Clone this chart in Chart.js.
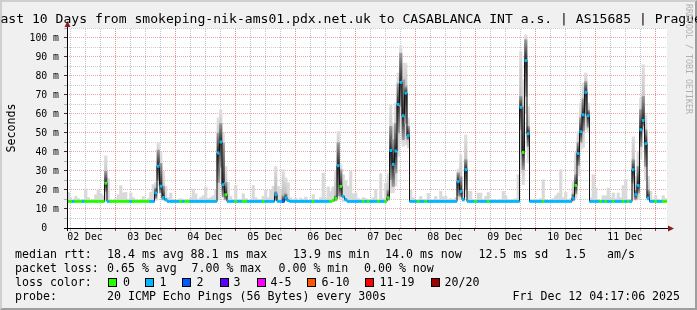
<!DOCTYPE html>
<html>
<head>
<meta charset="utf-8">
<title>smokeping</title>
<script src="https://cdn.jsdelivr.net/npm/chart.js@4.4.1/dist/chart.umd.min.js"></script>
<style>
html, body { margin: 0; padding: 0; }
body { width: 697px; height: 310px; overflow: hidden; position: relative; background: #f0f0f0;
  font-family: "DejaVu Sans Mono", monospace; color: #000; }
#frame { position: absolute; left: 0; top: 0; width: 693px; height: 306px; border: 2px solid;
  border-color: #cfcfcf #9e9e9e #9e9e9e #cfcfcf; }
#chart { position: absolute; left: 0; top: 0; }
.txt { position: absolute; white-space: pre; font-size: 11.6px; line-height: 14px; }
.box { position: absolute; top: 278px; width: 7px; height: 7px; border: 1px solid #000; }
#title { position: absolute; left: -7.5px; top: 11px; white-space: pre; font-size: 13.1px; line-height: 16px; }
#ylab { position: absolute; left: -19.5px; top: 121px; width: 60px; text-align: center;
  transform: rotate(-90deg); font-size: 11.6px; line-height: 14px; }
#mark { position: absolute; left: 684px; top: 4px; writing-mode: vertical-rl; font-size: 8.3px;
  color: #b0b0b0; white-space: pre; }
</style>
</head>
<body>
<div id="frame"></div>
<canvas id="chart" width="697" height="310"></canvas>
<div id="title">Last 10 Days from smokeping-nik-ams01.pdx.net.uk to CASABLANCA INT a.s. | AS15685 | Prague</div>
<div id="ylab">Seconds</div>
<div id="mark">RRDTOOL / TOBI OETIKER</div>

<span class="txt" style="left:15px;top:247px">median rtt:</span>
<span class="txt" style="left:107px;top:247px">18.4 ms avg</span>
<span class="txt" style="left:190.5px;top:247px">88.1 ms max</span>
<span class="txt" style="left:293px;top:247px">13.9 ms min</span>
<span class="txt" style="left:385px;top:247px">14.0 ms now</span>
<span class="txt" style="left:478.5px;top:247px">12.5 ms sd</span>
<span class="txt" style="left:565px;top:247px">1.5</span>
<span class="txt" style="left:607px;top:247px">am/s</span>

<span class="txt" style="left:15px;top:261px">packet loss:</span>
<span class="txt" style="left:107px;top:261px">0.65 % avg</span>
<span class="txt" style="left:191.5px;top:261px">7.00 % max</span>
<span class="txt" style="left:278.5px;top:261px">0.00 % min</span>
<span class="txt" style="left:364px;top:261px">0.00 % now</span>

<span class="txt" style="left:15px;top:275px">loss color:</span>
<div class="box" style="left:108px;background:#26ff00"></div><span class="txt" style="left:123px;top:275px">0</span>
<div class="box" style="left:145px;background:#00b8ff"></div><span class="txt" style="left:159.5px;top:275px">1</span>
<div class="box" style="left:182px;background:#0059ff"></div><span class="txt" style="left:196.5px;top:275px">2</span>
<div class="box" style="left:219.5px;background:#5e00ff"></div><span class="txt" style="left:233.5px;top:275px">3</span>
<div class="box" style="left:256.5px;background:#ff00ff"></div><span class="txt" style="left:270.5px;top:275px">4-5</span>
<div class="box" style="left:307px;background:#ff5500"></div><span class="txt" style="left:321.5px;top:275px">6-10</span>
<div class="box" style="left:365px;background:#ff0000"></div><span class="txt" style="left:379.5px;top:275px">11-19</span>
<div class="box" style="left:431px;background:#a10000"></div><span class="txt" style="left:444.5px;top:275px">20/20</span>

<span class="txt" style="left:15px;top:289px">probe:</span>
<span class="txt" style="left:107px;top:289px">20 ICMP Echo Pings (56 Bytes) every 300s</span>
<span class="txt" style="left:512.5px;top:289px">Fri Dec 12 04:17:06 2025</span>

<script>
// one value per hour, 240 hours, hour 0 = left edge of the plot
const dayLabels = ['02 Dec', '03 Dec', '04 Dec', '05 Dec', '06 Dec', '07 Dec', '08 Dec', '09 Dec', '10 Dec', '11 Dec']
const firstGridHour = 1.2   // first 6-hour grid line after the left edge
const yTop = 105.26

const medianRtt = [
  14,14,14,14,14,14,14,14,14,14, 14,14,14,14,14,23.6,14,14,14,14,
  14,14,14,14,14,14,14,14,14,14, 14,14,14,14,14,18.5,32.5,22,16,15,
  14,14,14,14,14,14,14,14,14,14, 14,14,14,14,14,14,14,14,14,14,
  39.5,45.3,22.8,17.5,14,14,14,14,14,14, 14,14,14,14,14,14,14,14,14,14,
  14,14,14,17.5,14,14,14,15.8,14.5,14, 14,14,14,14,14,14,14,14,14,14,
  14,14,14,14,14,14,14.5,15.6,32.8,21.9, 16.6,15,14,14,14,14,14,14,14,14,
  14,14,14,14,14,14,14,14,15.9,40.8, 33.5,40.5,65,76.6,59.1,71,48.6,14,14,14,
  14,14,14,14,14,14,14,14,14,14, 14,14,14,14,14,14,24.4,19.2,15,30.7,
  14,14,14,14,14,14,14,14,14,14, 14,14,14,14,14,14,14,14,14,14,
  14,63.5,39.8,88.1,49.6,14,14,14,14,14, 14,14,14,14,14,14,14,14,14,14,
  14,14,15.8,22.4,39.2,50.7,59.6,71.4,59.1,14, 14,14,14,14,14,14,14,14,14,14,
  14,14,14,14,14,14,30.7,17.7,22.4,51.7, 56.6,44.4,15.8,14,14,14,14,14,14,14
]

// lost pings out of 20 in that hour
const lossCount = [
  0,0,1,0,0,0,1,0,0,0, 0,0,0,0,0,0,1,0,0,0,
  0,0,0,0,0,1,0,0,0,0, 0,0,0,1,1,1,1,1,1,1,
  1,1,1,1,1,0,1,0,0,1, 1,1,1,1,1,1,1,1,1,1,
  1,1,1,0,1,1,1,0,1,1, 0,0,1,1,1,1,1,1,0,1,
  1,1,1,1,1,1,2,1,1,1, 1,1,1,1,1,1,1,1,0,1,
  1,1,1,1,1,0,0,0,1,0, 1,1,1,1,1,1,1,1,0,1,
  0,1,1,1,0,1,1,0,0,1, 1,1,1,1,1,1,1,1,1,1,
  0,1,1,0,1,1,1,1,1,1, 1,1,1,1,1,1,1,1,1,1,
  1,1,1,0,1,1,1,1,0,1, 1,1,1,1,1,1,1,1,1,1,
  1,1,0,1,1,1,1,1,1,1, 0,1,1,1,1,1,1,1,1,1,
  1,1,1,0,1,1,1,1,1,1, 1,1,1,0,1,0,1,1,0,1,
  1,1,0,1,0,1,1,1,1,1, 1,1,1,1,1,0,1,1,0,0
]

// fastest and slowest ping of each hour (outer smoke)
const smokeLo = [
  13.9,13.9,13.9,13.9,13.9,13.9,13.9,13.9,13.9,13.9, 13.9,13.9,13.9,13.9,13.9,14,13.9,13.9,13.9,13.9,
  13.9,13.9,13.9,13.9,13.9,13.9,13.9,13.9,13.9,13.9, 13.9,13.9,13.9,13.9,13.9,14.5,21.9,18,14.5,13.9,
  13.9,13.9,13.9,13.9,13.9,13.9,13.9,13.9,13.9,13.9, 13.9,13.9,13.9,13.9,13.9,13.9,13.9,13.9,13.9,13.9,
  15,24,15.5,14.5,13.9,13.9,13.9,13.9,13.9,13.9, 13.9,13.9,13.9,13.9,13.9,13.9,13.9,13.9,13.9,13.9,
  13.9,13.9,13.9,14.5,13.9,13.9,13.9,14,13.9,13.9, 13.9,13.9,13.9,13.9,13.9,13.9,13.9,13.9,13.9,13.9,
  13.9,13.9,13.9,13.9,13.9,13.9,13.9,14,15.5,15, 13.9,13.9,13.9,13.9,13.9,13.9,13.9,13.9,13.9,13.9,
  13.9,13.9,13.9,13.9,13.9,13.9,13.9,13.9,14.5,18.4, 18.5,21.9,37.7,51.7,42.9,43.8,42,13.9,13.9,13.9,
  13.9,13.9,13.9,13.9,13.9,13.9,13.9,13.9,13.9,13.9, 13.9,13.9,13.9,13.9,13.9,13.9,15,15,13.9,16.5,
  13.9,13.9,13.9,13.9,13.9,13.9,13.9,13.9,13.9,13.9, 13.9,13.9,13.9,13.9,13.9,13.9,13.9,13.9,13.9,13.9,
  13.9,29,22.8,60.5,34.2,13.9,13.9,13.9,13.9,13.9, 13.9,13.9,13.9,13.9,13.9,13.9,13.9,13.9,13.9,13.9,
  13.9,13.9,14,15.5,27.5,41.2,42.1,51.7,50,13.9, 13.9,13.9,13.9,13.9,13.9,13.9,13.9,13.9,13.9,13.9,
  13.9,13.9,13.9,13.9,13.9,13.9,15,14.5,15,36, 50,25.4,14.5,13.9,13.9,13.9,13.9,13.9,13.9,13.9
]
const smokeHi = [
  18.7,16,14.5,16.6,15.5,14.5,15,20.5,16,14.5, 15,17.5,20.2,18,17,38,26,14.5,14.5,15.5,
  17.5,22.3,18.5,18.7,15,18.5,16,15,14.5,15, 16.5,15,15.5,18.7,22.8,24,45,40,30,22,
  16,18.4,15,14.5,15,15.5,14.5,15,15,16, 20.5,18,15,16,17,21.6,15.5,16,17,19.8,
  58,62.3,50,32.4,24,16.5,15,22.3,15,15, 18,15.5,14.5,15,22.3,16,15,15,16.6,19.8,
  16,20,22,32.4,21.9,20,30.7,26.5,23.8,16, 15,15.8,14.5,15.8,15,16.3,14.5,15,17.5,15,
  14.5,16,28.9,15.5,21.6,19.3,21.6,30,50.8,33.3, 28,24.5,22,29.8,18,18.5,15.5,15,16,15.5,
  15,15,16,20.1,15,28.6,15.5,23.6,28.9,64.9, 55.3,65.8,81.6,96,86.8,86.8,57.8,20,16,14.5,
  15,16.6,15,15,18.2,15,14.5,16.6,15,19.3, 16.5,16.6,15,15.5,15,16,31,38.6,20,49,
  19.3,19.3,15,15,18.4,18.4,15,16.6,18.7,15, 15,14.5,15,15,19.3,17,15,14.5,15,15.5,
  28,93,78,101.7,64,15,14.5,15.2,15,15.5, 25.4,15,14.5,15.2,15.5,17,18.4,30.7,16,18.7,
  15,15.5,24.5,39.8,50.8,65.8,76.3,81.6,65.8,16, 28,21,15,14.5,17,17,21,16,18.4,15.5,
  18.4,16,22.3,25.4,15,15,48,27.2,40.3,68.4, 86,59.6,27.2,19.3,15,17,15,14.5,17,15.5
]

// hours with a dense core of pings around the median (dark smoke)
const coreHours = [15, 35, 36, 37, 38, 60, 61, 62, 63, 83, 86, 87, 107, 108, 109,
  128, 129, 130, 131, 132, 133, 134, 135, 136, 156, 157, 159, 181, 182, 183, 184,
  202, 203, 204, 205, 206, 207, 208, 226, 227, 228, 229, 230, 231, 232]
const coreLo = [19.3, 15.5, 25, 18.5, 15, 24, 32, 16.5, 15, 14.5, 14.2, 14.5, 14.5, 17, 16.6,
  14.8, 25.4, 21.9, 29, 50, 64, 46.5, 55, 46.5, 17, 16.5, 20, 51.7, 30.7, 69.3, 42.9,
  14.5, 18, 33, 45, 51, 60, 53, 23.6, 15, 18.4, 42.9, 53.5, 32.4, 15]
const coreHi = [29.8, 21, 41, 34, 22, 50, 55, 44.6, 24, 19, 17, 18, 17, 44.9, 30.7,
  20, 53.5, 46.5, 55, 76, 92, 78, 74.5, 53.5, 29, 27, 36, 69.3, 64, 99.1, 53.5,
  18, 28, 45, 58, 68, 77, 62, 36, 20, 32.4, 62.3, 69.3, 51.7, 20]

const lossColors = ['#26ff00', '#00b8ff', '#0059ff']
const minorGrid = 'rgba(140,140,140,0.45)'
const majorGrid = 'rgba(225,40,40,0.42)'

// vertical gradient, darkest at the median
function smokeFill(c, lo, hi, med, dark, light) {
  var chart = c.chart
  var y = chart.scales.y
  if (!y || !chart.chartArea) return light
  var top = y.getPixelForValue(hi)
  var bot = y.getPixelForValue(lo)
  if (bot - top < 1) return dark
  var t = (y.getPixelForValue(med) - top) / (bot - top)
  t = Math.min(1, Math.max(0, t))
  var g = chart.ctx.createLinearGradient(0, top, 0, bot)
  g.addColorStop(0, light)
  g.addColorStop(t, dark)
  g.addColorStop(1, light)
  return g
}

const frame = {
  id: 'frame',
  beforeDraw(chart) {
    var a = chart.chartArea, c = chart.ctx
    c.save()
    c.fillStyle = '#ffffff'
    c.fillRect(a.left, a.top, a.right - a.left, a.bottom - a.top)
    c.restore()
  },
  // vertical grid every 6 hours, red at midnight, dotted
  beforeDatasetsDraw(chart) {
    var a = chart.chartArea, c = chart.ctx, x = chart.scales.x
    c.save()
    for (var k = 0; k < 40; k++) {
      var px = Math.round(x.getPixelForValue(firstGridHour + 6 * k))
      c.fillStyle = k % 4 === 3 ? '#e48c8c' : '#c4c4c4'
      for (var py = Math.ceil(a.top) + 1; py < a.bottom; py += 2) c.fillRect(px, py, 1, 1)
    }
    c.restore()
  },
  afterDraw(chart) {
    var a = chart.chartArea, c = chart.ctx
    c.save()
    c.strokeStyle = '#000'
    c.lineWidth = 1
    c.beginPath()
    c.moveTo(a.left + 0.5, a.bottom + 3); c.lineTo(a.left + 0.5, a.top - 2)
    c.moveTo(a.left - 3, a.bottom + 0.5); c.lineTo(a.right + 2, a.bottom + 0.5)
    c.stroke()
    c.fillStyle = '#8b1a1a'
    c.beginPath()
    c.moveTo(a.left + 0.5, a.top - 7); c.lineTo(a.left - 2.5, a.top - 1); c.lineTo(a.left + 3.5, a.top - 1)
    c.closePath(); c.fill()
    c.beginPath()
    c.moveTo(a.right + 7, a.bottom + 0.5); c.lineTo(a.right + 1, a.bottom - 2.5); c.lineTo(a.right + 1, a.bottom + 3.5)
    c.closePath(); c.fill()
    c.restore()
  }
}

const hourPts = medianRtt.map((v, i) => ({x: i + 0.5, y: v}))
const outerPts = smokeHi.map((v, i) => ({x: i + 0.5, y: [smokeLo[i], v]}))
const corePts = coreHours.map((h, j) => ({x: h + 0.5, y: [coreLo[j], coreHi[j]]}))

var ctx = document.getElementById('chart').getContext('2d')
var chart = new Chart(ctx, {
  type: 'bar',
  data: {
    datasets: [{
      type: 'line',
      data: hourPts,
      showLine: false,
      pointStyle: 'line',
      pointRadius: 1.3,
      pointHoverRadius: 1.3,
      pointBorderWidth: 3,
      pointBorderColor: c => lossColors[lossCount[c.dataIndex]],
      pointBackgroundColor: c => lossColors[lossCount[c.dataIndex]],
      order: 1
    }, {
      type: 'line',
      data: hourPts,
      stepped: 'middle',
      borderColor: '#111111',
      borderWidth: 1,
      pointRadius: 0,
      fill: false,
      order: 2
    }, {
      type: 'bar',
      data: corePts,
      backgroundColor: c => {
        var h = coreHours[c.dataIndex]
        return smokeFill(c, coreLo[c.dataIndex], coreHi[c.dataIndex], medianRtt[h], '#262626', '#9c9c9c')
      },
      borderWidth: 0,
      barPercentage: 1,
      categoryPercentage: 1,
      grouped: false,
      order: 3
    }, {
      type: 'bar',
      data: outerPts,
      backgroundColor: c => {
        var i = c.dataIndex
        if (coreHours.indexOf(i) < 0) return '#d9d9d9'
        return smokeFill(c, smokeLo[i], smokeHi[i], medianRtt[i], '#b4b4b4', '#e0e0e0')
      },
      borderWidth: 0,
      barPercentage: 1,
      categoryPercentage: 1,
      grouped: false,
      order: 4
    }]
  },
  options: {
    responsive: false,
    animation: false,
    events: [],
    layout: { padding: { left: 20, top: 28, right: 30, bottom: 0 } },
    plugins: { legend: { display: false }, tooltip: { enabled: false } },
    scales: {
      x: {
        type: 'linear',
        min: 0,
        max: 240,
        offset: false,
        afterFit: s => { s.height = 82 },
        afterBuildTicks: s => {
          var t = []
          for (var k = 0; k < 40; k++) t.push({value: firstGridHour + 6 * k})
          s.ticks = t
        },
        grid: {
          offset: false,
          drawOnChartArea: false,
          color: c => c.index % 4 === 3 ? majorGrid : minorGrid,
          tickColor: c => c.index % 4 === 3 ? '#b03030' : '#b0b0b0',
          tickLength: 3,
          lineWidth: 1
        },
        border: { display: false },
        ticks: {
          autoSkip: false,
          maxRotation: 0,
          minRotation: 0,
          padding: 1,
          color: '#000',
          font: { family: 'DejaVu Sans Mono', size: 9.8 },
          callback: (v, i) => i % 4 === 1 ? dayLabels[(i - 1) / 4] : ''
        }
      },
      y: {
        min: 0,
        max: yTop,
        afterFit: s => { s.width = 47 },
        afterBuildTicks: s => {
          var t = []
          for (var k = 0; k <= 21; k++) t.push({value: 5 * k})
          s.ticks = t
        },
        grid: {
          color: c => c.index % 2 === 0 ? majorGrid : minorGrid,
          tickColor: c => c.index % 2 === 0 ? '#333' : '#b0b0b0',
          tickLength: 3,
          lineWidth: 1
        },
        border: { display: false, dash: [1, 1] },
        ticks: {
          autoSkip: false,
          padding: 5,
          color: '#000',
          font: { family: 'DejaVu Sans Mono', size: 9.8 },
          callback: v => v % 10 === 0 ? (v === 0 ? '0  ' : v + ' m') : ''
        }
      }
    }
  },
  plugins: [frame]
})
</script>
</body>
</html>
